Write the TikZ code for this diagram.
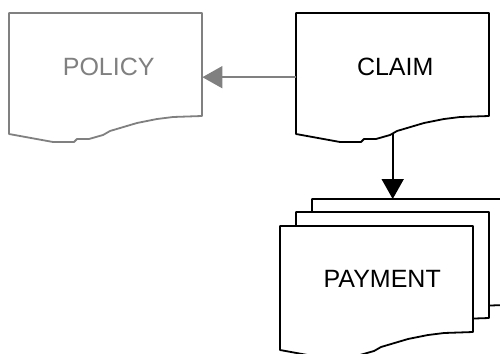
\documentclass[tikz,border=0pt]{standalone}
\usepackage{fontspec}
\setmainfont{Liberation Sans}
\usepackage{tikz}
\usetikzlibrary{arrows.meta}
\definecolor{docgray}{RGB}{128,128,128}
% document outline with a torn lower edge: [options]{top left}{right edge}
\newcommand{\docshape}[3][]{%
  \draw[docline, #1] #2 -- ++(193,0) -- ++(0,#3) -- ++(-29,1) -- ++(-16,2)
    -- ++(-20,4) -- ++(-27,8) -- ++(-7,4) -- ++(-14,4) -- ++(-12,0)
    -- ++(-3,3) -- ++(-21,0) -- ++(-44,-8) -- cycle;}

\begin{document}
\begin{tikzpicture}[
    x=1pt, y=-1pt,
    docline/.style={line width=1.8pt, line join=round, fill=white},
    docbody/.style={anchor=north west, minimum width=193pt, minimum height=108pt, inner sep=0pt, font=\fontsize{25pt}{30pt}\selectfont},
    link/.style={-{Triangle[length=20pt, width=22pt]}, line width=1.8pt}
]
\useasboundingbox (0,0) rectangle (500,353);
\clip (0,0) rectangle (500,353);

% Policy
\docshape[draw=docgray]{(9,13)}{103}
\node[docbody, text=docgray] (policy) at (9,13) {\hspace{6pt}POLICY};

% Claim
\docshape{(296,13)}{103}
\node[docbody] (claim) at (296,13) {\hspace{5pt}CLAIM};

% Payment stack
\docshape{(312,199)}{106}
\node[docbody] (payback) at (312,199) {};
\docshape{(296,212)}{106}
\node[docbody] (paymid) at (296,212) {};
\docshape{(280,226)}{106}
\node[docbody, yshift=1.5pt] (payment) at (280,226) {\hspace{11pt}PAYMENT};

% Links
\draw[link, docgray] ([yshift=-10pt]claim.west) -- ([yshift=-10pt]policy.east);
\draw[link] ([yshift=-13pt]claim.south) -- (claim.south |- payback.north);
\end{tikzpicture}
\end{document}
